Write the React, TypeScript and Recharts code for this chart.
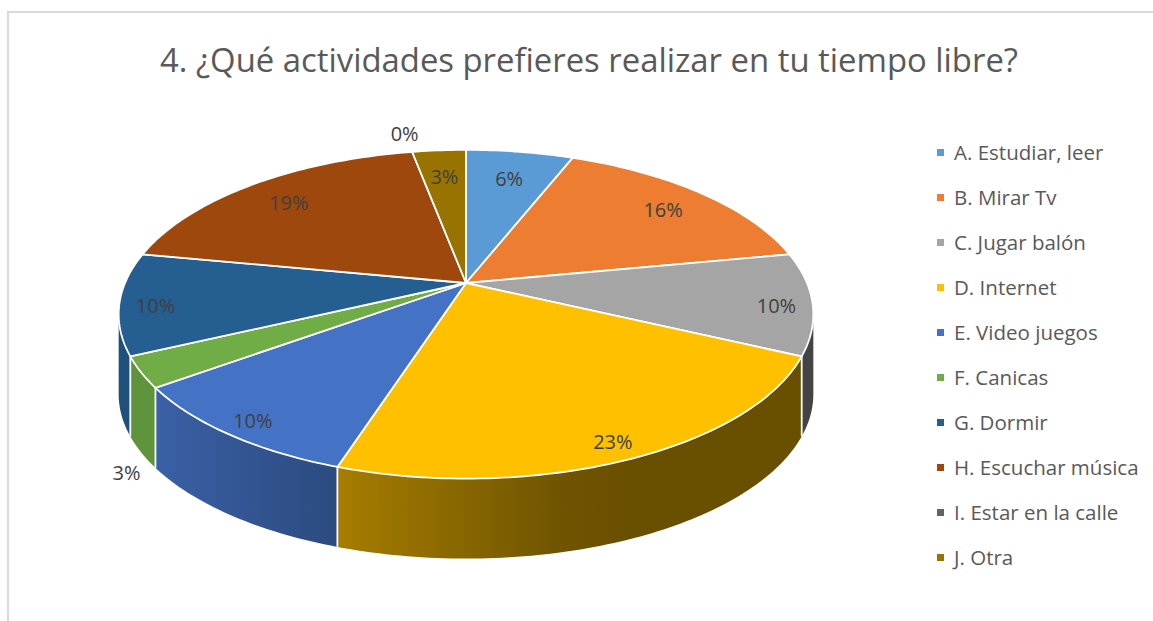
import React from 'react';
import { PieChart, Pie, Cell, Legend } from 'recharts';

// Survey answers, share of students (%)
const categories = [
  'A. Estudiar, leer',
  'B. Mirar Tv',
  'C. Jugar balón',
  'D. Internet',
  'E. Video juegos',
  'F. Canicas',
  'G. Dormir',
  'H. Escuchar música',
  'I. Estar en la calle',
  'J. Otra',
];
const shares = [6, 16, 10, 23, 10, 3, 10, 19, 0, 3];
const palette = ['#5B9BD5', '#ED7D31', '#A5A5A5', '#FFC000', '#4472C4', '#70AD47', '#255E91', '#9E480E', '#636363', '#997300'];

const data = categories.map((name, i) => ({ name, value: shares[i] }));

// fake 3D: perspective tilt of the disc
const K = 0.19; // perspective strength
const SQUASH = 0.4646; // vertical / horizontal radius
const DEPTH = 80; // wall height in px
const RAD = Math.PI / 180;
const SIL = Math.asin(K) / RAD; // silhouette angle

const proj = (cx: number, cy: number, R: number, a: number, r = 1): [number, number] => {
  const u = r * Math.cos(a * RAD);
  const v = -r * Math.sin(a * RAD);
  const d = 1 - K * v;
  return [cx + (R * u) / d, cy + (R * SQUASH * v) / d];
};

const shade = (hex: string, f: number) => {
  const n = parseInt(hex.slice(1), 16);
  const c = [(n >> 16) & 255, (n >> 8) & 255, n & 255].map((x) => Math.round(x * f));
  return `rgb(${c[0]},${c[1]},${c[2]})`;
};

const light = (u: number) => {
  if (u <= -0.8) return 0.85;
  if (u >= 0.3) return 0.41;
  return 0.85 - ((u + 0.8) / 1.1) * 0.44;
};

const inFront = (a: number) => Math.sin(a * RAD) < -K + 1e-6;

function WallShape(props: any) {
  const { cx, cy, outerRadius: R, startAngle, endAngle, fill } = props;
  const lo = Math.max(Math.min(startAngle, endAngle), -180 + SIL);
  const hi = Math.min(Math.max(startAngle, endAngle), -SIL);
  if (hi <= lo) return <g />;
  const n = Math.max(2, Math.ceil(hi - lo));
  const top: [number, number][] = [];
  for (let i = 0; i <= n; i++) top.push(proj(cx, cy, R, lo + ((hi - lo) * i) / n));
  const bottom = top.map(([x, y]) => [x, y + DEPTH]).reverse();
  const d = 'M' + [...top, ...bottom].map((p) => `${p[0].toFixed(2)},${p[1].toFixed(2)}`).join('L') + 'Z';
  const xL = top[0][0];
  const xR = top[top.length - 1][0];
  const id = `wall-${Math.round(lo * 100)}`;
  const stops = [];
  for (let i = 0; i <= 8; i++) {
    const a = lo + ((hi - lo) * i) / 8;
    const px = proj(cx, cy, R, a)[0];
    const off = xR - xL > 0.5 ? (px - xL) / (xR - xL) : i / 8;
    stops.push(<stop key={i} offset={Math.min(1, Math.max(0, off))} stopColor={shade(fill, light(Math.cos(a * RAD)))} />);
  }
  return (
    <g>
      <defs>
        <linearGradient id={id} gradientUnits="userSpaceOnUse" x1={xL} x2={xR} y1={0} y2={0}>
          {stops}
        </linearGradient>
      </defs>
      <path d={d} fill={`url(#${id})`} />
    </g>
  );
}

function TopShape(props: any) {
  const { cx, cy, outerRadius: R, startAngle, endAngle, fill } = props;
  const span = endAngle - startAngle;
  let edge = null;
  if (inFront(startAngle)) {
    const p = proj(cx, cy, R, startAngle);
    edge = <line x1={p[0]} y1={p[1]} x2={p[0]} y2={p[1] + DEPTH} stroke="#fff" strokeWidth={1.8} />;
  }
  if (Math.abs(span) < 0.01) return <g>{edge}</g>;
  const n = Math.max(2, Math.ceil(Math.abs(span)));
  const pts: string[] = [`${cx},${cy}`];
  for (let i = 0; i <= n; i++) {
    const p = proj(cx, cy, R, startAngle + (span * i) / n);
    pts.push(`${p[0].toFixed(2)},${p[1].toFixed(2)}`);
  }
  return (
    <g>
      <path d={`M${pts.join('L')}Z`} fill={fill} stroke="#fff" strokeWidth={1.8} strokeLinejoin="round" />
      {edge}
    </g>
  );
}

function renderLabel(p: any) {
  const { cx, cy, midAngle, outerRadius: R, value } = p;
  const u = Math.cos(midAngle * RAD);
  const v = -Math.sin(midAngle * RAD);
  const small = value === 0 || (value < 3.5 && v > 0.3);
  let x: number, y: number;
  if (!small) {
    [x, y] = proj(cx, cy, R, midAngle, 0.84 + 0.07 * v + 0.05 * u * u);
    y += 4 * u * u;
  } else if (v > 0) {
    [x, y] = proj(cx, cy, R, midAngle, 1.04);
    y += DEPTH + 16;
  } else {
    [x, y] = proj(cx, cy, R, midAngle, 1.17);
  }
  return (
    <text x={x} y={y} textAnchor="middle" dominantBaseline="central" fill="#404040" fontSize={20} fontFamily="'Open Sans', sans-serif">
      {`${value}%`}
    </text>
  );
}

function LegendBox() {
  return (
    <div style={{ fontFamily: "'Open Sans', sans-serif", fontSize: 20.5, color: '#595959' }}>
      {categories.map((c, i) => (
        <div key={c} style={{ height: 45, lineHeight: '45px', display: 'flex', alignItems: 'center', whiteSpace: 'nowrap' }}>
          <span style={{ display: 'inline-block', width: 7, height: 7, background: palette[i], marginRight: 10 }} />
          {c}
        </div>
      ))}
    </div>
  );
}

export default function App() {
  return (
    <div style={{ position: 'absolute', left: 0, top: 0, width: 1153, height: 621, overflow: 'hidden', background: '#fff' }}>
      <div style={{ position: 'absolute', left: 7, top: 11, width: 1300, height: 800, border: '2px solid #d9d9d9' }} />
      <svg width={1153} height={100} style={{ position: 'absolute', left: 0, top: 0 }}>
        <text x={589} y={72} textAnchor="middle" fontSize={32} fill="#595959" fontFamily="'Open Sans', sans-serif" textLength={858} lengthAdjust="spacingAndGlyphs">
          4. ¿Qué actividades prefieres realizar en tu tiempo libre?
        </text>
      </svg>
      <div style={{ position: 'absolute', left: 0, top: 0 }}>
        <PieChart width={1153} height={621} margin={{ top: 0, right: 0, bottom: 0, left: 0 }}>
          <Pie
            data={data}
            dataKey="value"
            cx={466}
            cy={283}
            outerRadius={341}
            startAngle={90}
            endAngle={-270}
            isAnimationActive={false}
            legendType="none"
            label={false}
            labelLine={false}
            shape={WallShape}
            activeShape={WallShape}
            inactiveShape={WallShape}
          >
            {data.map((d, i) => (
              <Cell key={`w-${d.name}`} fill={palette[i]} />
            ))}
          </Pie>
          <Pie
            data={data}
            dataKey="value"
            cx={466}
            cy={283}
            outerRadius={341}
            startAngle={90}
            endAngle={-270}
            isAnimationActive={false}
            label={renderLabel}
            labelLine={false}
            shape={TopShape}
            activeShape={TopShape}
            inactiveShape={TopShape}
          >
            {data.map((d, i) => (
              <Cell key={`t-${d.name}`} fill={palette[i]} />
            ))}
          </Pie>
          <Legend content={LegendBox} layout="vertical" align="right" verticalAlign="top" wrapperStyle={{ left: 937, top: 130, width: 216 }} />
        </PieChart>
      </div>
    </div>
  );
}
